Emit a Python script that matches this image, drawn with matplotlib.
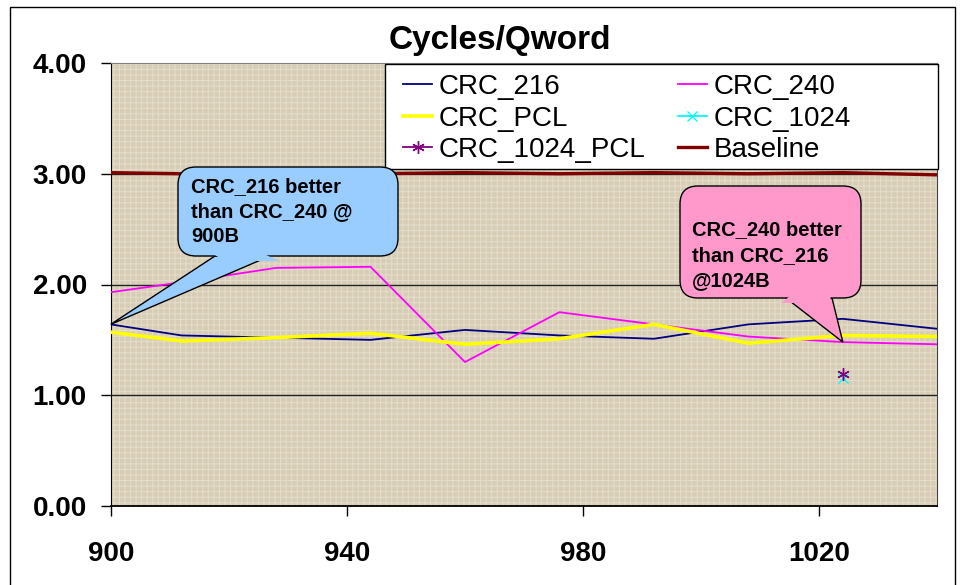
import matplotlib
matplotlib.use("Agg")
import matplotlib.pyplot as plt
from matplotlib.patches import Rectangle, FancyBboxPatch, Polygon
from matplotlib.lines import Line2D
from matplotlib.transforms import IdentityTransform

plt.rcParams['font.family'] = ['Liberation Sans', 'DejaVu Sans']

# data
sizes = [900, 912, 928, 944, 960, 976, 992, 1008, 1024, 1040]
crc_216 = [1.64, 1.54, 1.52, 1.50, 1.59, 1.54, 1.51, 1.64, 1.69, 1.60]
crc_240 = [1.93, 2.02, 2.15, 2.16, 1.30, 1.75, 1.64, 1.53, 1.48, 1.46]
crc_pcl = [1.57, 1.49, 1.52, 1.56, 1.46, 1.51, 1.64, 1.47, 1.54, 1.53]
baseline = [3.01, 3.00, 3.00, 3.00, 3.01, 3.00, 3.01, 3.00, 3.01, 2.99]
crc_1024_x = [1024]
crc_1024 = [1.16]
crc_1024_pcl = [1.19]

x_ticks = [900, 940, 980, 1020]
y_ticks = [0, 1, 2, 3, 4]

W, H = 964, 585
fig = plt.figure(figsize=(W / 100, H / 100), dpi=100)
fig.patch.set_facecolor('white')

# outer chart border
fig.add_artist(Rectangle((10 / W, -0.01), 945 / W, (H - 7) / H + 0.01,
                         transform=fig.transFigure, fill=False,
                         edgecolor='black', linewidth=1))

ax = fig.add_axes([110.7 / W, 1 - 506 / H, (937.3 - 110.7) / W, (506 - 63) / H])
ax.set_xlim(900, 1040)
ax.set_ylim(0, 4)

# canvas-like plot background
ax.set_facecolor('#d7ccb4')
plt.rcParams['hatch.linewidth'] = 0.8
ax.add_patch(Rectangle((0, 0), 1, 1, transform=ax.transAxes, facecolor='none',
                       edgecolor='#e4dccb', hatch='+++', linewidth=0, zorder=0))

for v in y_ticks[1:4]:
    ax.axhline(v, color='#222222', linewidth=1, zorder=1)

ax.plot(sizes, crc_216, color='#000080', linewidth=1.3, zorder=3)
ax.plot(sizes, crc_240, color='#ff00ff', linewidth=1.3, zorder=3)
ax.plot(sizes, crc_pcl, color='#ffff00', linewidth=2.6, zorder=3)
ax.plot(sizes, baseline, color='#800000', linewidth=2.4, zorder=3)
ax.plot(crc_1024_x, crc_1024, color='#00ffff', marker='x', markersize=7,
        markeredgewidth=1, linestyle='none', zorder=4)
ax.plot(crc_1024_x, crc_1024_pcl, color='#800080', marker=(6, 2, 0), markersize=9,
        markeredgewidth=1, linestyle='none', zorder=4)

ax.set_xticks(x_ticks)
ax.set_xticklabels([str(t) for t in x_ticks])
ax.set_yticks(y_ticks)
ax.set_yticklabels(['%.2f' % t for t in y_ticks])
ax.tick_params(axis='both', direction='out', length=7.2, width=1, color='black',
               labelsize=20)
ax.tick_params(axis='y', pad=10)
ax.tick_params(axis='x', pad=18)
for lab in ax.get_xticklabels() + ax.get_yticklabels():
    lab.set_fontweight('bold')

ax.spines['left'].set_color('black')
ax.spines['bottom'].set_color('black')
ax.spines['bottom'].set_linewidth(1.3)
ax.spines['top'].set_color('#808080')
ax.spines['right'].set_color('#444444')

fig.text(500 / W, 1 - 41 / H, 'Cycles/Qword', ha='center', va='center',
         fontsize=24, fontweight='bold')

# legend with a wide frame
ax.add_patch(Rectangle((385, H - 169), 938 - 385, 169 - 64, transform=IdentityTransform(),
                       facecolor='white', edgecolor='black', linewidth=1, zorder=5,
                       clip_on=False))
handles = [
    Line2D([], [], color='#000080', linewidth=1.3),
    Line2D([], [], color='#ffff00', linewidth=2.6),
    Line2D([], [], color='#800080', linewidth=1.3, marker=(6, 2, 0), markersize=9),
    Line2D([], [], color='#ff00ff', linewidth=1.3),
    Line2D([], [], color='#00ffff', linewidth=1.3, marker='x', markersize=7),
    Line2D([], [], color='#800000', linewidth=2.4),
]
labels = ['CRC_216', 'CRC_PCL', 'CRC_1024_PCL', 'CRC_240', 'CRC_1024', 'Baseline']
leg = ax.legend(handles, labels, ncol=2, loc='upper left',
                bbox_to_anchor=(403 / W, 1 - 74 / H), bbox_transform=fig.transFigure,
                frameon=False, fontsize=20, handlelength=1.05, handletextpad=0.25,
                columnspacing=1.15, labelspacing=0.2, borderpad=0, borderaxespad=0)
leg.set_zorder(6)


def callout(lines, box, base, tip, color, text_x, line_y):
    # box and base are in picture pixels (origin top-left); tip is a data point
    x0, y0, x1, y1 = box
    tx, ty = ax.transData.transform(tip)
    b1, b2 = base
    by = H - y1
    tail = [(b1, by), (b2, by), (tx, ty)]
    ax.add_patch(Polygon(tail, closed=True, transform=IdentityTransform(),
                         facecolor=color, edgecolor='black', linewidth=1,
                         zorder=7, clip_on=False))
    ax.add_patch(FancyBboxPatch((x0 + 14, by + 14), x1 - x0 - 28, y1 - y0 - 28,
                                boxstyle='round,pad=14,rounding_size=18',
                                transform=IdentityTransform(), facecolor=color,
                                edgecolor='black', linewidth=1, zorder=8, clip_on=False))

    # patch over the box edge where the tail joins it
    def side(bx, dy):
        t = -dy / (ty - by)
        return bx + t * (tx - bx)
    d = 5
    fill = [(side(b1, d) + 1.5, by + d), (side(b2, d) - 1.5, by + d),
            (side(b2, -d) - 1.5, by - d), (side(b1, -d) + 1.5, by - d)]
    ax.add_patch(Polygon(fill, closed=True, transform=IdentityTransform(),
                         facecolor=color, edgecolor='none', zorder=9, clip_on=False))
    for line, ly in zip(lines, line_y):
        fig.text(text_x / W, 1 - ly / H, line, ha='left', va='center',
                 fontsize=14.5, fontweight='bold', zorder=10)


callout(['CRC_216 better', 'than CRC_240 @', '900B'],
        (178, 167, 398, 256), (215, 270), (sizes[0], crc_216[0]), '#99ccff',
        191, [187, 212, 237])
callout(['CRC_240 better', 'than CRC_216', '@1024B'],
        (680, 186, 861, 298), (786, 832), (sizes[8], crc_240[8]), '#ff99cc',
        692, [230, 256, 281])

fig.savefig('out.png', dpi=100)
